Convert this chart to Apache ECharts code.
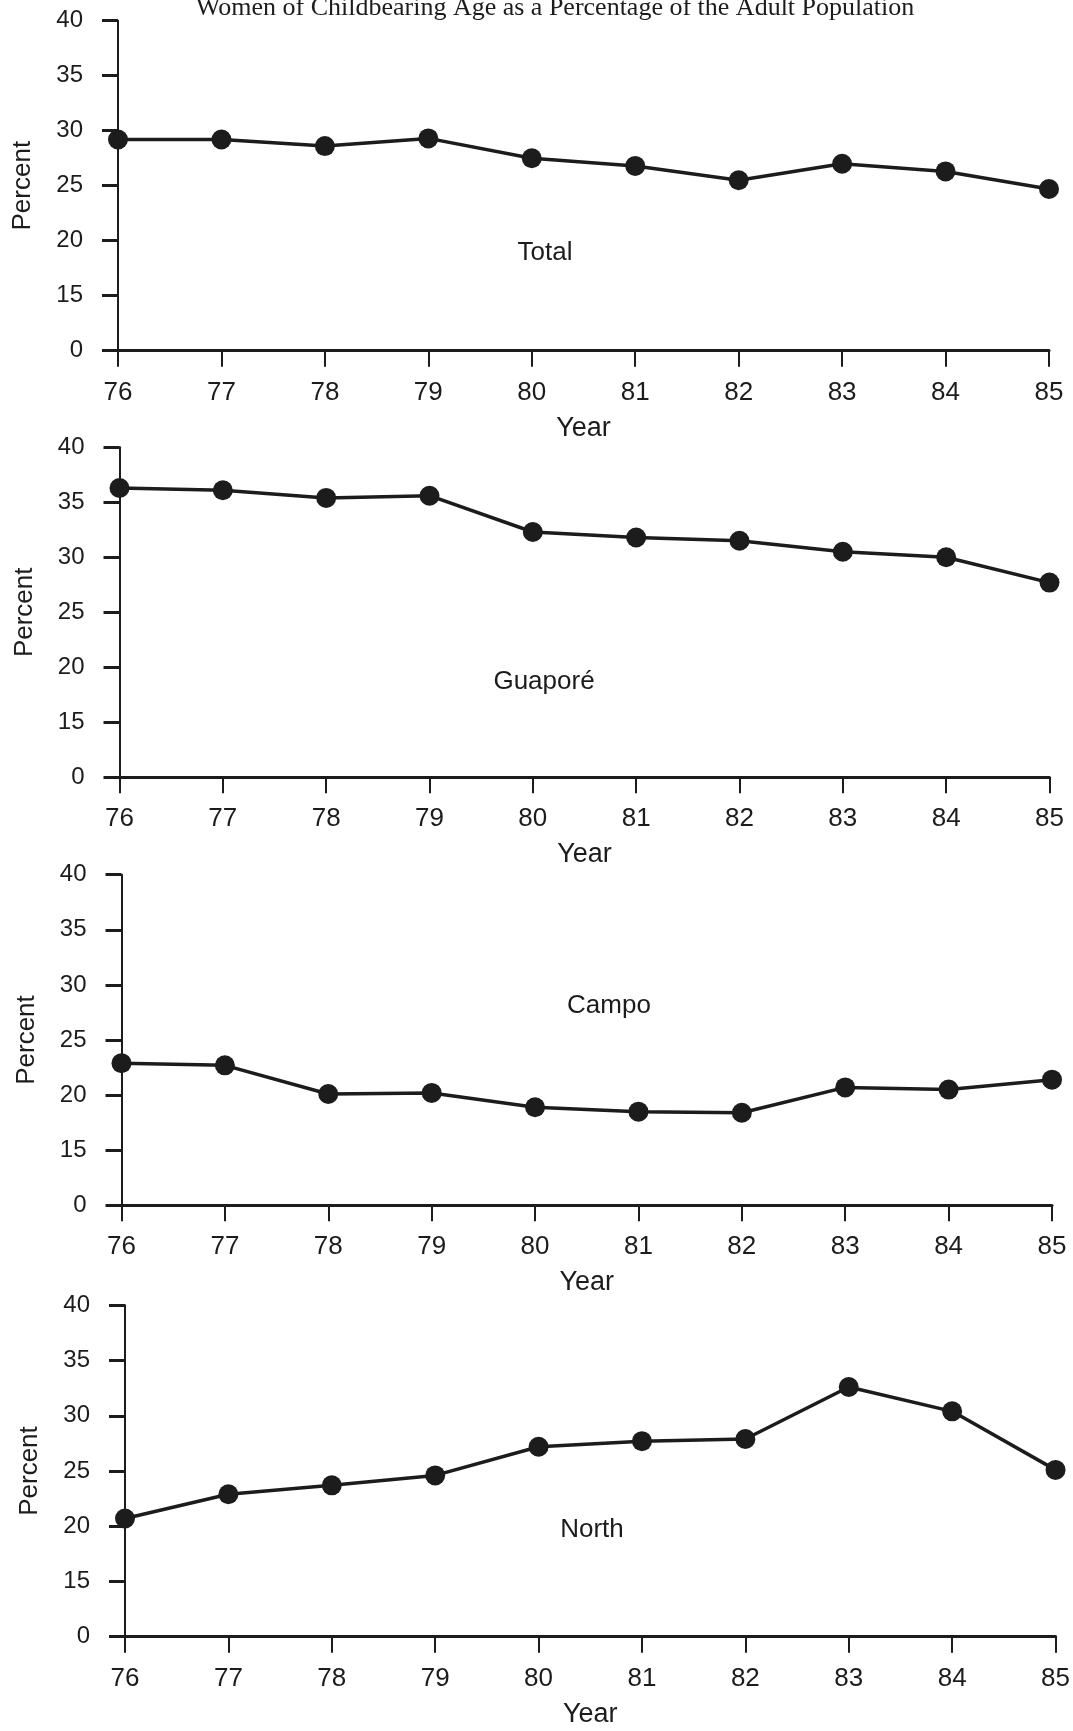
<!DOCTYPE html>
<html>
<head>
<meta charset="utf-8">
<title>Women of Childbearing Age as a Percentage of the Adult Population</title>
<script src="https://cdn.jsdelivr.net/npm/echarts@6/dist/echarts.min.js"></script>
<style>
  html, body { margin: 0; padding: 0; background: #ffffff; }
  #chart { width: 1073px; height: 1731px; }
</style>
</head>
<body>
<div id="chart"></div>
<script>
// Survey years (19xx)
const years = ['76', '77', '78', '79', '80', '81', '82', '83', '84', '85'];

// Women of childbearing age, % of adult population
const totalPct   = [29.2, 29.2, 28.6, 29.3, 27.5, 26.8, 25.5, 27.0, 26.3, 24.7];
const guaporePct = [36.3, 36.1, 35.4, 35.6, 32.3, 31.8, 31.5, 30.5, 30.0, 27.7];
const campoPct   = [22.9, 22.7, 20.1, 20.2, 18.9, 18.5, 18.4, 20.7, 20.5, 21.4];
const northPct   = [20.7, 22.9, 23.7, 24.6, 27.2, 27.7, 27.9, 32.6, 30.4, 25.1];

// Broken y scale: the lowest tick stands for 0, then 15..40 in steps of 5
const yTickLabels = ['0', '15', '20', '25', '30', '35', '40'];
const yMin = 10, yMax = 40, yStep = 5;

const panelNames = ['Total', 'Guaporé', 'Campo', 'North'];
const panelData = [totalPct, guaporePct, campoPct, northPct];

// Panel boxes and the position of each panel's caption
const panelBoxes = [
  { left: 118,   width: 931,   top: 20.7,   height: 330 },
  { left: 119.5, width: 930,   top: 447.3,  height: 330 },
  { left: 121.5, width: 930.5, top: 874.7,  height: 330.6 },
  { left: 125,   width: 931,   top: 1305.3, height: 331.4 }
];
const captionAt = [[545, 253], [544, 682], [609, 1006], [592, 1530]];

const ink = '#1c1c1c';
const sans = "'Liberation Sans', Arial, Helvetica, sans-serif";
const serif = "'Liberation Serif', 'Times New Roman', serif";

const grid = [], xAxis = [], yAxis = [], series = [], graphic = [];

panelData.forEach((values, i) => {
  grid.push(Object.assign({ containLabel: false }, panelBoxes[i]));
  xAxis.push({
    type: 'category',
    gridIndex: i,
    data: years,
    boundaryGap: false,
    name: 'Year',
    nameLocation: 'middle',
    nameGap: 64,
    nameTextStyle: { fontFamily: sans, fontSize: 27, color: ink },
    axisLine: { show: true, onZero: false, lineStyle: { color: ink, width: 3 } },
    axisTick: { show: true, inside: false, length: 16, interval: 0, lineStyle: { color: ink, width: 2 } },
    axisLabel: { interval: 0, margin: 29, fontFamily: sans, fontSize: 26, color: ink },
    splitLine: { show: false }
  });
  yAxis.push({
    type: 'value',
    gridIndex: i,
    min: yMin,
    max: yMax,
    interval: yStep,
    name: 'Percent',
    nameLocation: 'middle',
    nameGap: 82,
    nameTextStyle: { fontFamily: sans, fontSize: 26, color: ink, letterSpacing: 1 },
    axisLine: { show: true, lineStyle: { color: ink, width: 2 } },
    axisTick: { show: true, inside: false, length: 16, lineStyle: { color: ink, width: 3 } },
    axisLabel: {
      margin: 35,
      fontFamily: sans,
      fontSize: 24,
      color: ink,
      formatter: v => yTickLabels[Math.round((v - yMin) / yStep)]
    },
    splitLine: { show: false }
  });
  series.push({
    name: panelNames[i],
    type: 'line',
    xAxisIndex: i,
    yAxisIndex: i,
    data: values,
    symbol: 'circle',
    symbolSize: 20,
    showAllSymbol: true,
    lineStyle: { color: ink, width: 3.5 },
    itemStyle: { color: ink },
    emphasis: { disabled: true },
    animation: false,
    z: 3
  });
  graphic.push({
    type: 'text',
    x: captionAt[i][0],
    y: captionAt[i][1],
    style: {
      text: panelNames[i],
      fontFamily: sans,
      fontSize: 26,
      fill: ink,
      align: 'center',
      verticalAlign: 'middle'
    }
  });
});

// Overall heading, set in a serif face along the top edge
graphic.push({
  type: 'text',
  x: 555,
  y: 8,
  style: {
    text: 'Women of Childbearing Age as a Percentage of the Adult Population',
    fontFamily: serif,
    fontSize: 26,
    fill: ink,
    align: 'center',
    verticalAlign: 'middle'
  }
});

const chart = echarts.init(document.getElementById('chart'), null, { renderer: 'canvas' });
chart.setOption({
  backgroundColor: '#ffffff',
  animation: false,
  grid, xAxis, yAxis, series, graphic
});
</script>
</body>
</html>
